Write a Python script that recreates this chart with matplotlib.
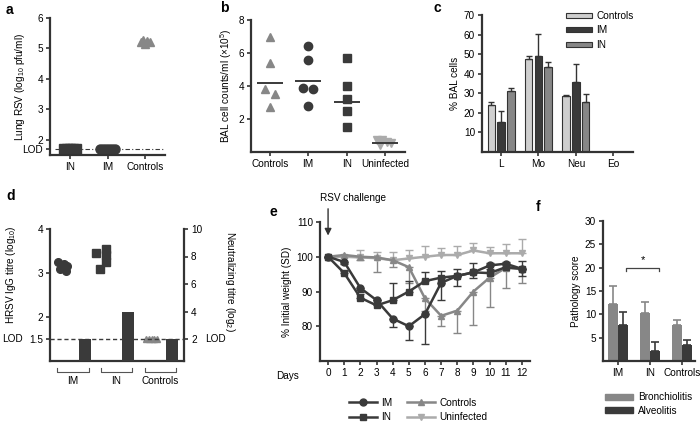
import matplotlib.pyplot as plt
import numpy as np
from matplotlib.patches import Patch
from matplotlib.lines import Line2D
import matplotlib.transforms as mtransforms

plt.rcParams['font.family'] = ['Liberation Sans', 'DejaVu Sans']
plt.rcParams['mathtext.default'] = 'regular'
plt.rcParams['font.size'] = 7.2

DARK = '#3a3a3a'
MID = '#878787'
LIGHT = '#cfcfcf'
PALE = '#ababab'

# ---- data ----
# a: lung RSV titre
a_groups = ['IN', 'IM', 'Controls']
a_in = [1.7, 1.7, 1.7, 1.7, 1.7]
a_im = [1.7, 1.7, 1.7, 1.7, 1.7, 1.7]
a_ctrl = [5.22, 5.28, 5.15, 5.25, 5.2]
a_lod = 1.7

# b: BAL cell counts
b_groups = ['Controls', 'IM', 'IN', 'Uninfected']
b_ctrl = [7.0, 5.4, 3.8, 3.5, 2.7]
b_im = [6.4, 5.6, 3.9, 3.8, 2.8]
b_in = [5.7, 4.0, 3.2, 2.5, 1.5]
b_uninf = [0.75, 0.7, 0.6, 0.55, 0.45]
b_means = [4.2, 4.3, 3.05, 0.56]

# c: % BAL cells
c_cells = ['L', 'Mo', 'Neu', 'Eo']
c_ctrl = [24, 47.5, 28.5, 0]
c_ctrl_err = [1.5, 1.5, 0.5, 0]
c_im = [15.5, 49, 36, 0]
c_im_err = [5.5, 11.5, 9, 0]
c_in = [31, 43.5, 25.5, 0]
c_in_err = [1.5, 2.5, 4, 0]

# d: IgG titre and neutralizing titre
d_groups = ['IM', 'IN', 'Controls']
d_im_igg = [3.25, 3.2, 3.15, 3.08, 3.05]
d_in_igg = [3.55, 3.45, 3.4, 3.25, 3.1]
d_ctrl_igg = [1.5, 1.5, 1.5, 1.5, 1.5]
d_neut = [2, 4, 2]

# e: weight loss
days = np.arange(13)
e_im = [100, 98.5, 91, 87.5, 82.2, 80, 83.5, 92.5, 94.5, 95.5, 97.5, 98, 96.5]
e_im_err = [0, 0.5, 1, 1, 2.3, 4, 8.7, 5, 3, 1.5, 1, 1, 2]
e_in = [100, 95.3, 88.2, 86, 87.5, 90, 93, 94, 94.5, 95.5, 95.3, 97, 96.5]
e_in_err = [0, 0.5, 1, 1.5, 5, 3, 2.5, 1.8, 2, 2.7, 3, 1.5, 2.3]
e_ctrl = [100, 100.5, 100, 99.8, 99, 97, 88, 83, 84.5, 90, 94, 96.8, 96.5]
e_ctrl_err = [0, 0.5, 1, 4.3, 2, 4.5, 3.5, 3, 6.5, 9.5, 8.5, 5.8, 4]
e_uninf = [100, 100, 99.8, 99.6, 99, 99.5, 100, 100.5, 100.5, 101.8, 101, 101, 101]
e_uninf_err = [0, 0.5, 2.2, 1.8, 2.3, 2.3, 3, 2, 2.5, 2.3, 1.8, 2.8, 4.2]

# f: pathology score
f_groups = ['IM', 'IN', 'Controls']
f_bronch = [12.3, 10.3, 7.8]
f_bronch_err = [3.7, 2.4, 0.9]
f_alv = [7.8, 2.2, 3.4]
f_alv_err = [2.7, 1.9, 1.2]

fig = plt.figure(figsize=(7, 4.25), dpi=100)


def style_axes(ax):
    for s in ['top', 'right']:
        ax.spines[s].set_visible(False)
    for s in ['left', 'bottom']:
        ax.spines[s].set_linewidth(1.6)
        ax.spines[s].set_color('#333333')
    ax.tick_params(width=1.2, length=3, color='#333333', pad=2)


def panel_label(x, y, s):
    fig.text(x / 700, 1 - y / 425, s, fontsize=10, fontweight='bold', va='center', ha='left')


# ---------- a ----------
ax = fig.add_axes([50 / 700, 1 - 155 / 425, 115 / 700, 137 / 425])
style_axes(ax)
ax.plot(np.linspace(-0.15, 0.15, len(a_in)), a_in, 's', color=DARK, ms=6.5)
ax.plot(1 + np.linspace(-0.2, 0.2, len(a_im)), a_im, 'o', color=DARK, ms=6.5)
ax.plot(2 + np.linspace(-0.12, 0.12, len(a_ctrl)), a_ctrl, '^', color=MID, ms=6)
ax.axhline(a_lod, color=DARK, lw=0.8, ls=(0, (4, 2, 1, 2)), xmin=0.04, zorder=0)
ax.set_xlim(-0.53, 2.53)
ax.set_ylim(1.5, 6)
ax.set_xticks(range(3), a_groups)
ax.set_yticks([a_lod, 2, 3, 4, 5, 6], ['LOD', '2', '3', '4', '5', '6'])
ax.set_ylabel('Lung RSV (log$_{10}$ pfu/ml)')
ax.yaxis.set_label_coords(-0.2, 0.5)
panel_label(6, 10, 'a')

# ---------- b ----------
ax = fig.add_axes([251 / 700, 1 - 152 / 425, 154 / 700, 132 / 425])
style_axes(ax)
ax.plot(np.array([0, 0, -0.13, 0.13, 0]), b_ctrl, '^', color=MID, ms=6)
ax.plot(1 + np.array([0, 0, -0.13, 0.13, 0]), b_im, 'o', color=DARK, ms=6)
ax.plot(2 + np.zeros(len(b_in)), b_in, 's', color=DARK, ms=5.5)
ax.plot(3 + np.array([-0.2, -0.08, 0.05, 0.15, -0.12]), b_uninf, 'v', color=PALE, ms=6)
for i, m in enumerate(b_means):
    ax.hlines(m, i - 0.34, i + 0.34, color=DARK, lw=1.4, zorder=3)
ax.set_xlim(-0.49, 3.52)
ax.set_ylim(0, 8)
ax.set_xticks(range(4), b_groups)
ax.set_yticks([2, 4, 6, 8])
ax.set_ylabel('BAL cell counts/ml (×10$^5$)', labelpad=3)
panel_label(220, 8, 'b')

# ---------- c ----------
ax = fig.add_axes([482 / 700, 1 - 152 / 425, 151 / 700, 137 / 425])
style_axes(ax)
x = np.arange(len(c_cells))
w = 0.2
ek = dict(ecolor='#333333', elinewidth=1, capsize=2.5, capthick=1)
ax.bar(x - 0.26, c_ctrl, w, yerr=[np.zeros(4), c_ctrl_err], color=LIGHT, edgecolor='#333333', lw=0.8, error_kw=ek, label='Controls')
ax.bar(x, c_im, w, yerr=[np.zeros(4), c_im_err], color=DARK, edgecolor='#333333', lw=0.8, error_kw=ek, label='IM')
ax.bar(x + 0.26, c_in, w, yerr=[np.zeros(4), c_in_err], color=MID, edgecolor='#333333', lw=0.8, error_kw=ek, label='IN')
ax.set_xlim(-0.51, 3.53)
ax.set_ylim(0, 70)
ax.set_xticks(x, c_cells)
ax.set_yticks(range(10, 71, 10))
ax.set_ylabel('% BAL cells', labelpad=3)
ax.legend(loc='upper left', bbox_to_anchor=(0.53, 1.06), frameon=False, handlelength=2.6,
          handleheight=0.45, labelspacing=0.45, handletextpad=0.4, borderaxespad=0, fontsize=7.2)
panel_label(434, 8, 'c')

# ---------- d ----------
ax = fig.add_axes([50 / 700, 1 - 361 / 425, 134 / 700, 132 / 425])
style_axes(ax)
ax.spines['right'].set_visible(True)
ax.spines['right'].set_linewidth(1.6)
ax.spines['right'].set_color('#333333')
ax2 = ax.twinx()
for s in ['top', 'left', 'bottom', 'right']:
    ax2.spines[s].set_visible(False)
ax2.tick_params(width=1.2, length=3, color='#333333', pad=2)
ax.plot(0 + np.array([-0.33, -0.2, -0.12, -0.28, -0.14]), d_im_igg, 'o', color=DARK, ms=5.5, zorder=3)
ax.plot(1 + np.array([-0.24, -0.47, -0.24, -0.24, -0.37]), d_in_igg, 's', color=DARK, ms=5.5, zorder=3)
ax.plot(2 + np.array([-0.33, -0.27, -0.21, -0.15, -0.09]) + 0.02, d_ctrl_igg, '^', color=MID, ms=4.5, zorder=3)
ax2.bar(np.arange(3) + 0.28, d_neut, 0.27, color=DARK, zorder=2)
ax.axhline(1.5, color=DARK, lw=1, ls=(0, (3, 2)), zorder=4)
ax.set_xlim(-0.51, 2.55)
ax.set_ylim(1.0, 4.0)
ax2.set_ylim(0.4, 10)
ax.set_xticks([])
ax.set_yticks([1.5, 2, 3, 4], ['1.5', '2', '3', '4'])
ax2.set_yticks([2, 4, 6, 8, 10])
ax.set_ylabel('HRSV IgG titre (log$_{10}$)')
ax.yaxis.set_label_coords(-0.24, 0.65)
ax2.set_ylabel('Neutralizing titre (log$_2$)', rotation=270, va='center')
ax2.yaxis.set_label_coords(1.343, 0.6)
ax.text(-0.36, 1.5, 'LOD', transform=mtransforms.blended_transform_factory(ax.transAxes, ax.transData),
        ha='left', va='center')
ax2.text(1.157, 2, 'LOD', transform=mtransforms.blended_transform_factory(ax2.transAxes, ax2.transData),
         ha='left', va='center')
tr = mtransforms.blended_transform_factory(ax.transData, ax.transAxes)
for i, g in enumerate(d_groups):
    xs = [i - 0.35, i - 0.35, i + 0.37, i + 0.37]
    ax.plot(xs, [-0.05, -0.083, -0.083, -0.05], color='#555555', lw=0.8, transform=tr, clip_on=False)
    ax.text(i + 0.01, -0.115, g, transform=tr, ha='center', va='top')
panel_label(6, 196, 'd')

# ---------- e ----------
ax = fig.add_axes([320 / 700, 1 - 361 / 425, 210 / 700, 139 / 425])
style_axes(ax)
z = np.zeros(13)
ax.errorbar(days, e_uninf, yerr=[z, e_uninf_err], color=PALE, marker='v', ms=5, lw=1.8,
            capsize=3, elinewidth=1, capthick=1)
ax.errorbar(days, e_ctrl, yerr=[e_ctrl_err, z], color=MID, marker='^', ms=5, lw=1.8,
            capsize=3, elinewidth=1, capthick=1)
ax.errorbar(days, e_in, yerr=[z, e_in_err], color=DARK, marker='s', ms=5, lw=1.8,
            capsize=3, elinewidth=1, capthick=1)
ax.errorbar(days, e_im, yerr=[e_im_err, z], color=DARK, marker='o', ms=5, lw=1.8,
            capsize=3, elinewidth=1, capthick=1)
ax.set_xlim(-0.5, 12.5)
ax.set_ylim(70, 110)
ax.set_xticks(days)
ax.set_yticks([80, 90, 100, 110])
ax.set_ylabel('% Initial weight (SD)', labelpad=3)
ax.annotate('', xy=(0, 105.3), xytext=(0, 114.6), annotation_clip=False,
            arrowprops=dict(arrowstyle='-|>', color='#333333', lw=1, mutation_scale=10))
ax.text(-0.5, 117.0, 'RSV challenge', ha='left', va='center')
ax.text(-0.1, -0.07, 'Days', transform=ax.transAxes, ha='right', va='top')
h = [Line2D([], [], color=DARK, marker='o', ms=5, lw=1.8),
     Line2D([], [], color=DARK, marker='s', ms=5, lw=1.8),
     Line2D([], [], color=MID, marker='^', ms=5, lw=1.8),
     Line2D([], [], color=PALE, marker='v', ms=5, lw=1.8)]
fig.legend(h, ['IM', 'IN', 'Controls', 'Uninfected'], ncol=2, loc='center left',
           bbox_to_anchor=(340 / 700, 1 - 410 / 425), frameon=False, fontsize=7.2,
           handlelength=2.8, columnspacing=1.5, labelspacing=0.45, handletextpad=0.4)
panel_label(270, 212, 'e')

# ---------- f ----------
ax = fig.add_axes([603 / 700, 1 - 361 / 425, 92 / 700, 140 / 425])
style_axes(ax)
x = np.arange(3)
ax.bar(x - 0.16, f_bronch, 0.3, yerr=[z[:3], f_bronch_err], color=MID,
       error_kw=dict(ecolor=MID, elinewidth=1.2, capsize=3, capthick=1.2))
ax.bar(x + 0.16, f_alv, 0.3, yerr=[z[:3], f_alv_err], color=DARK,
       error_kw=dict(ecolor=DARK, elinewidth=1.2, capsize=3, capthick=1.2))
ax.plot([0.25, 0.25, 1.28, 1.28], [19.3, 20, 20, 19.3], color='#444444', lw=0.9)
ax.text(0.77, 20.6, '*', ha='center', va='bottom', fontsize=8)
ax.set_xlim(-0.47, 2.4)
ax.set_ylim(0, 30)
ax.set_xticks(x, f_groups)
ax.set_yticks(range(5, 31, 5))
ax.set_ylabel('Pathology score', labelpad=3)
fig.legend([Patch(color=MID), Patch(color=DARK)], ['Bronchiolitis', 'Alveolitis'],
           loc='center left', bbox_to_anchor=(596 / 700, 1 - 404 / 425), frameon=False,
           fontsize=7.2, handlelength=2.8, handleheight=0.5, labelspacing=0.3, handletextpad=0.5)
panel_label(536, 207, 'f')

fig.savefig('out.png', dpi=100)
